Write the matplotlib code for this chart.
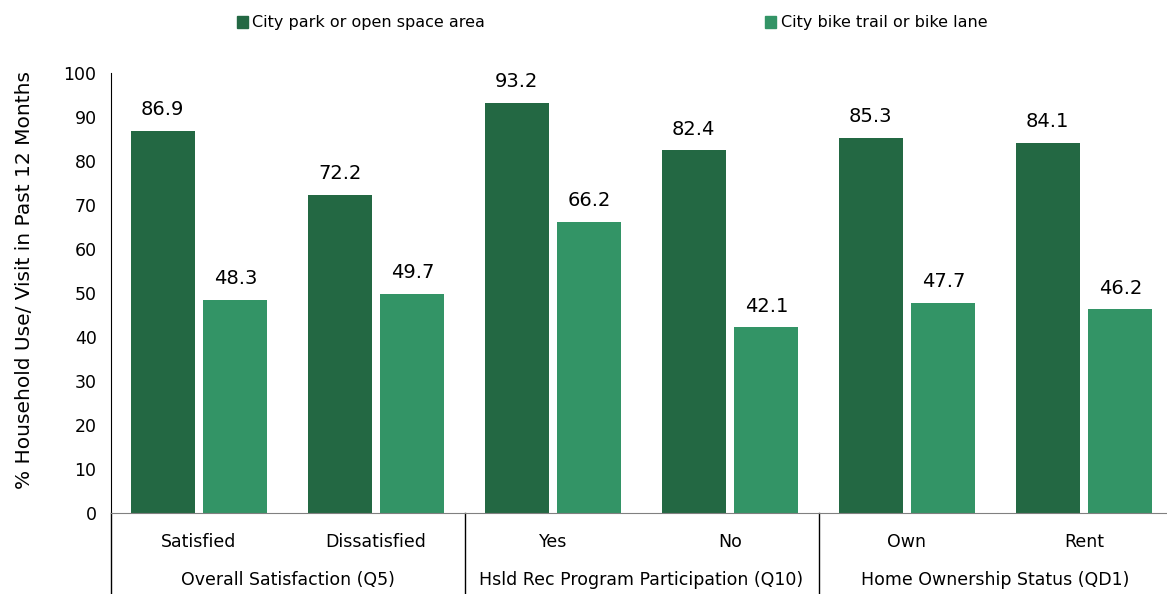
import matplotlib
matplotlib.use("Agg")
import matplotlib.pyplot as plt
import matplotlib.transforms as mtransforms
from matplotlib.patches import Patch

# data
categories = ["Satisfied", "Dissatisfied", "Yes", "No", "Own", "Rent"]
groups = ["Overall Satisfaction (Q5)", "Hsld Rec Program Participation (Q10)",
          "Home Ownership Status (QD1)"]
park = [86.9, 72.2, 93.2, 82.4, 85.3, 84.1]
bike = [48.3, 49.7, 66.2, 42.1, 47.7, 46.2]
series_names = ["City park or open space area", "City bike trail or bike lane"]

dark = "#236843"
light = "#339466"

plt.rcParams["font.family"] = "DejaVu Sans"

W, H = 1167, 594
fig = plt.figure(figsize=(W / 100, H / 100), dpi=100)
ax = fig.add_axes([110.5 / W, (H - 512.5) / H, 1062 / W, 439.5 / H])

x = list(range(len(categories)))
bw = 0.36
xs_park = [i - 0.205 for i in x]
xs_bike = [i + 0.205 for i in x]
ax.bar(xs_park, park, width=bw, color=dark)
ax.bar(xs_bike, bike, width=bw, color=light)

# value labels above the bars
for xp, v in zip(xs_park + xs_bike, park + bike):
    ax.annotate(f"{v:.1f}", (xp, v), xytext=(0, 8.5), textcoords="offset points",
                ha="center", va="bottom", fontsize=14)

ax.set_xlim(-0.5, 5.5)
ax.set_ylim(0, 100)
ax.set_yticks(range(0, 101, 10))
ax.set_xticks([])
ax.tick_params(axis="y", length=0, pad=10, labelsize=12.5)

for s in ["top", "right"]:
    ax.spines[s].set_visible(False)
ax.spines["left"].set_color("black")
ax.spines["bottom"].set_color("#808080")

# category labels and group labels below the axis
trans = mtransforms.blended_transform_factory(ax.transData, ax.transAxes)
for i, c in enumerate(categories):
    ax.text(i, -0.066, c, transform=trans, ha="center", va="center", fontsize=12.5)
for g, name in enumerate(groups):
    ax.text(2 * g + 0.5, -0.1536, name, transform=trans, ha="center", va="center", fontsize=12.5)

ybot = -(H - 512.5) / 439.5
for xv in [-0.5, 1.5, 3.5]:
    ax.plot([xv, xv], [0, ybot], transform=trans, color="black", lw=1, clip_on=False)

fig.text(25 / W, (H - 280) / H, "% Household Use/ Visit in Past 12 Months",
         rotation=90, ha="center", va="center", fontsize=14.5)

handles = [Patch(color=dark), Patch(color=light)]
fig.legend(handles, series_names, loc="center", bbox_to_anchor=(612 / W, 1 - 23 / H),
           ncol=2, frameon=False, fontsize=11.5, handlelength=0.7, handleheight=0.7,
           handletextpad=0.3, columnspacing=17.5)

fig.savefig("out.png", dpi=100)
